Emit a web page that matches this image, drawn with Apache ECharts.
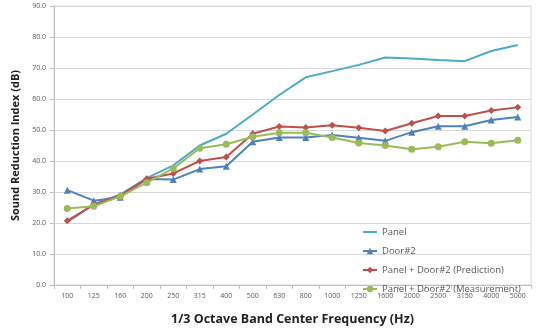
<!DOCTYPE html>
<html>
<head>
<meta charset="utf-8">
<script src="https://cdn.jsdelivr.net/npm/echarts@6/dist/echarts.min.js"></script>
<style>html,body{margin:0;padding:0;background:#fff}#c{width:536px;height:331px}</style>
</head>
<body>
<div id="c"></div>
<script>
var categories = ['100','125','160','200','250','315','400','500','630','800','1000','1250','1600','2000','2500','3150','4000','5000'];
var panel = [20.3, 26.0, 29.2, 34.5, 38.6, 45.0, 48.8, 55.0, 61.3, 67.0, 69.0, 71.0, 73.4, 73.1, 72.6, 72.2, 75.5, 77.4];
var door2 = [30.6, 27.2, 28.3, 34.2, 34.0, 37.4, 38.3, 46.2, 47.6, 47.6, 48.4, 47.5, 46.5, 49.3, 51.2, 51.2, 53.2, 54.2];
var prediction = [20.7, 25.9, 28.9, 34.3, 36.0, 40.0, 41.3, 48.8, 51.1, 50.8, 51.5, 50.7, 49.7, 52.2, 54.5, 54.5, 56.3, 57.3];
var measurement = [24.7, 25.4, 28.6, 33.0, 37.6, 44.1, 45.4, 47.8, 49.1, 49.1, 47.6, 45.8, 45.0, 43.8, 44.6, 46.2, 45.7, 46.7];
var seriesNames = ['Panel', 'Door#2', 'Panel + Door#2 (Prediction)', 'Panel + Door#2 (Measurement)'];

var chart = echarts.init(document.getElementById('c'), null, {renderer: 'canvas'});
var labelColor = '#595959';
function mk(name, data, color, symbol, size) {
  var hasSym = symbol !== 'none';
  return {
    name: name, type: 'line', data: data,
    symbol: hasSym ? symbol : 'circle', symbolSize: size, showSymbol: hasSym,
    lineStyle: {color: color, width: 2},
    itemStyle: {color: color, opacity: hasSym ? 1 : 0},
    animation: false
  };
}
chart.setOption({
  animation: false,
  grid: {left: 54, right: 5, top: 6, bottom: 36, show: true, borderColor: '#d9d9d9', borderWidth: 1},
  legend: {
    orient: 'vertical', left: 357, top: 222, itemGap: 9,
    itemWidth: 14, itemHeight: 8,
    textStyle: {fontSize: 9.5, color: labelColor, fontFamily: 'Open Sans'},
    data: seriesNames
  },
  xAxis: {
    type: 'category', data: categories, boundaryGap: true,
    name: '1/3 Octave Band Center Frequency (Hz)', nameLocation: 'middle', nameGap: 28,
    nameTextStyle: {fontSize: 12.5, fontWeight: 'bold', color: '#222', fontFamily: 'Open Sans'},
    axisLine: {lineStyle: {color: '#bfbfbf'}},
    axisTick: {show: true, lineStyle: {color: '#bfbfbf'}, length: 4},
    axisLabel: {fontSize: 7, color: labelColor, margin: 7, interval: 0, fontFamily: 'Open Sans'}
  },
  yAxis: {
    type: 'value', min: 0, max: 90, interval: 10,
    name: 'Sound Reduction Index (dB)', nameLocation: 'middle', nameGap: 32,
    nameTextStyle: {fontSize: 11, fontWeight: 'bold', color: '#222', fontFamily: 'Open Sans'},
    axisLine: {show: true, lineStyle: {color: '#bfbfbf'}},
    axisTick: {show: true, lineStyle: {color: '#bfbfbf'}, length: 4},
    axisLabel: {fontSize: 7, color: labelColor, margin: 8, fontFamily: 'Open Sans', formatter: function (v) { return v.toFixed(1); }},
    splitLine: {lineStyle: {color: '#d9d9d9', width: 1}}
  },
  series: [
    mk(seriesNames[0], panel, '#4BACC6', 'none', 0),
    mk(seriesNames[1], door2, '#4F81BD', 'triangle', 7),
    mk(seriesNames[2], prediction, '#C0504D', 'diamond', 7),
    mk(seriesNames[3], measurement, '#9BBB59', 'circle', 7)
  ]
});
</script>
</body>
</html>
